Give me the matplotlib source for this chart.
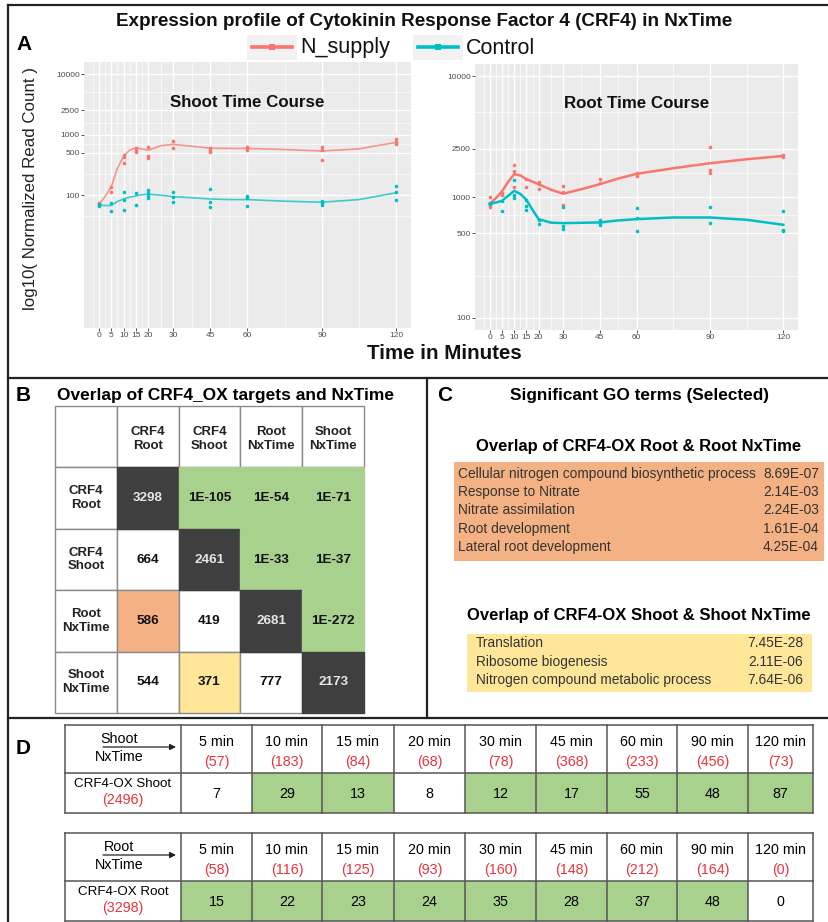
import numpy as np
import matplotlib.pyplot as plt
from matplotlib.patches import Rectangle
from matplotlib.ticker import FixedLocator, NullFormatter

plt.rcParams['font.family'] = ['Liberation Sans', 'DejaVu Sans']

RED = '#F8766D'
CYAN = '#00BFC4'
GREEN = '#A9D18E'
ORANGE = '#F4B183'
YELLOW = '#FFE699'
DARK = '#3F3F3F'
DRED = '#E8343C'

# ---------------- panel A : time courses ----------------
times = [0, 5, 10, 15, 20, 30, 45, 60, 90, 120]

shoot_n = [[73, 70, 68], [137, 111], [458, 420, 342], [606, 554, 507], [630, 441, 414],
           [782, 606], [591, 554, 520], [630, 591, 554], [630, 560, 384], [830, 760, 690]]
shoot_c = [[70, 66], [75, 55], [111, 84, 57], [107, 68], [121, 107, 98, 88],
           [111, 94, 76], [126, 76, 63], [98, 88, 67], [80, 73, 68], [141, 114, 82]]
root_n = [[997, 861, 824], [1089, 1042], [1842, 1644, 1205], [1403, 1205], [1342, 1285, 1167],
          [1236, 1109, 861], [1403, 1300], [1573, 1495], [2577, 1676, 1573], [2228, 2131]]
root_c = [[890, 870], [918, 759], [1386, 1042, 978], [947, 845, 783], [648, 597],
          [824, 571, 546], [640, 608, 582], [809, 669, 519], [824, 608], [759, 535, 519]]

# smooth (loess) curves as drawn, read at these minutes
fit_t = [0, 2.5, 5, 7.5, 10, 12.5, 15, 17.5, 20, 25, 30, 37.5, 45, 52.5, 60, 75, 90, 105, 120]
shoot_n_fit = [70, 94, 137, 276, 441, 554, 606, 576, 550, 653, 688, 640, 595, 590, 590, 565, 534, 580, 742]
shoot_c_fit = [68, 67, 67, 78, 86, 92, 97, 101, 103, 99, 94, 90, 86, 84, 84, 79, 76, 84, 109]
root_n_fit = [878, 978, 1109, 1330, 1543, 1510, 1403, 1340, 1276, 1150, 1065, 1160, 1276, 1420, 1553, 1729, 1901, 2052, 2187]
root_c_fit = [878, 900, 930, 1022, 1124, 1062, 947, 783, 656, 614, 608, 612, 616, 640, 656, 677, 677, 648, 589]

yticks = [100, 500, 1000, 2500, 10000]

# ---------------- panel B : overlap matrix ----------------
b_cols = ['CRF4\nRoot', 'CRF4\nShoot', 'Root\nNxTime', 'Shoot\nNxTime']
b_vals = [['3298', '1E-105', '1E-54', '1E-71'],
          ['664', '2461', '1E-33', '1E-37'],
          ['586', '419', '2681', '1E-272'],
          ['544', '371', '777', '2173']]
b_kind = [['d', 'g', 'g', 'g'],
          ['w', 'd', 'g', 'g'],
          ['o', 'w', 'd', 'g'],
          ['w', 'y', 'w', 'd']]

# ---------------- panel C : GO terms ----------------
go_root = ['Cellular nitrogen compound biosynthetic process', 'Response to Nitrate',
           'Nitrate assimilation', 'Root development', 'Lateral root development']
go_root_p = ['8.69E-07', '2.14E-03', '2.24E-03', '1.61E-04', '4.25E-04']
go_shoot = ['Translation', 'Ribosome biogenesis', 'Nitrogen compound metabolic process']
go_shoot_p = ['7.45E-28', '2.11E-06', '7.64E-06']

# ---------------- panel D : overlaps per time point ----------------
d_times = ['5 min', '10 min', '15 min', '20 min', '30 min', '45 min', '60 min', '90 min', '120 min']
shoot_nx = [57, 183, 84, 68, 78, 368, 233, 456, 73]
shoot_ov = [7, 29, 13, 8, 12, 17, 55, 48, 87]
shoot_sig = [0, 1, 1, 0, 1, 1, 1, 1, 1]
root_nx = [58, 116, 125, 93, 160, 148, 212, 164, 0]
root_ov = [15, 22, 23, 24, 35, 28, 37, 48, 0]
root_sig = [1, 1, 1, 1, 1, 1, 1, 1, 0]
shoot_total = 2496
root_total = 3298

W, H = 829, 922
fig = plt.figure(figsize=(W / 100, H / 100), dpi=100)
fig.patch.set_facecolor('white')

# full-figure overlay in pixel coordinates for boxes, tables and text
ax0 = fig.add_axes([0, 0, 1, 1])
ax0.set_xlim(0, W)
ax0.set_ylim(H, 0)
ax0.axis('off')


def px_axes(x0, y0, x1, y1):
    return fig.add_axes([x0 / W, 1 - y1 / H, (x1 - x0) / W, (y1 - y0) / H])


def time_course(ax, pts_n, pts_c, fit_n, fit_c, ylim, title, ty, lw, alpha):
    ax.set_facecolor('#EBEBEB')
    for spine in ax.spines.values():
        spine.set_visible(False)
    for pts, col in [(pts_n, RED), (pts_c, CYAN)]:
        xs = [t for t, vals in zip(times, pts) for _ in vals]
        ys = [v for vals in pts for v in vals]
        ax.plot(xs, ys, 'o', ms=2.6, color=col, mew=0, zorder=3)
    ax.plot(fit_t, fit_n, color=RED, lw=lw, alpha=alpha, zorder=2)
    ax.plot(fit_t, fit_c, color=CYAN, lw=lw, alpha=alpha, zorder=2)
    ax.set_yscale('log')
    ax.set_xlim(-6, 126)
    ax.set_ylim(*ylim)
    ax.set_xticks(times)
    ax.set_xticklabels([str(t) for t in times])
    xminor = [-2.5] + list((np.array(times[:-1]) + np.array(times[1:])) / 2)
    ax.xaxis.set_minor_locator(FixedLocator(xminor))
    ly = np.log10(yticks)
    yminor = [10 ** (2 - (ly[1] - ly[0]) / 2)] + list(10 ** ((ly[:-1] + ly[1:]) / 2))
    ax.set_yticks(yticks)
    ax.set_yticklabels([str(v) for v in yticks])
    ax.yaxis.set_minor_locator(FixedLocator(yminor))
    ax.yaxis.set_minor_formatter(NullFormatter())
    ax.tick_params(which='major', length=2, width=0.6, color='#333333',
                   labelsize=6, labelcolor='#4D4D4D', pad=1)
    ax.tick_params(which='minor', length=0)
    ax.grid(which='major', color='white', lw=1.0)
    ax.grid(which='minor', color='white', lw=0.45)
    ax.set_axisbelow(True)
    ax.text(0.5, ty, title, transform=ax.transAxes, ha='center', va='center',
            fontsize=12.2, fontweight='bold', color='#111111')


axL = px_axes(84, 62, 411, 328)
time_course(axL, shoot_n, shoot_c, shoot_n_fit, shoot_c_fit,
            (10 ** -0.2, 10 ** 4.2), 'Shoot Time Course', 0.846, 1.2, 0.75)
axR = px_axes(475, 64, 798, 330)
time_course(axR, root_n, root_c, root_n_fit, root_c_fit,
            (10 ** 1.9, 10 ** 4.1), 'Root Time Course', 0.853, 1.8, 1.0)

# ---------------- frame lines ----------------
lc = '#222222'
lw_frame = 1.6
ax0.plot([8, W], [5, 5], color=lc, lw=lw_frame)
ax0.plot([8, 8], [5, H], color=lc, lw=lw_frame)
ax0.plot([8, W], [378, 378], color=lc, lw=lw_frame)
ax0.plot([427, 427], [378, 718], color=lc, lw=lw_frame)
ax0.plot([8, W], [718, 718], color=lc, lw=lw_frame)

# panel letters
for lab, x, y in [('A', 24, 45), ('B', 23.5, 395), ('C', 445, 395), ('D', 23.5, 748)]:
    ax0.text(x, y, lab, fontsize=15, fontweight='bold', ha='center', va='center')

# panel A texts
ax0.text(424, 21, 'Expression profile of Cytokinin Response Factor 4 (CRF4) in NxTime',
         fontsize=13.6, fontweight='bold', ha='center', va='center', color='#111111')
ax0.text(31, 189, 'log10( Normalized Read Count )', rotation=90, fontsize=12.2,
         ha='center', va='center', color='#222222')
ax0.text(444, 353, 'Time in Minutes', fontsize=14.8, fontweight='bold',
         ha='center', va='center', color='#111111')

for x0, lab, col in [(247, 'N_supply', RED), (413, 'Control', CYAN)]:
    ax0.add_patch(Rectangle((x0, 35), 50, 25, facecolor='#F2F2F2', lw=0))
    ax0.plot([x0 + 5, x0 + 45], [47.5, 47.5], color=col, lw=2.6)
    ax0.plot([x0 + 25], [47.5], 's', color=col, ms=5, mew=0)
    ax0.text(x0 + 53, 48, lab, fontsize=15.5, ha='left', va='center', color='#111111')

# ---------------- panel B ----------------
ax0.text(57, 395, 'Overlap of CRF4_OX targets and NxTime', fontsize=12.5,
         fontweight='bold', ha='left', va='center')
bx = np.linspace(55, 364, 6)
by = np.linspace(406, 713, 6)
fills = {'w': 'white', 'd': DARK, 'g': GREEN, 'o': ORANGE, 'y': YELLOW}
grid_c = '#8A8A8A'
# header row / column
for j in range(5):
    ax0.add_patch(Rectangle((bx[j], by[0]), bx[j + 1] - bx[j], by[1] - by[0],
                            facecolor='white', edgecolor=grid_c, lw=1.0))
for i in range(4):
    ax0.add_patch(Rectangle((bx[0], by[i + 1]), bx[1] - bx[0], by[i + 2] - by[i + 1],
                            facecolor='white', edgecolor=grid_c, lw=1.0))
for order in ['wy o', 'gd']:
    for i in range(4):
        for j in range(4):
            k = b_kind[i][j]
            if k not in order:
                continue
            ec = fills[k] if k in 'gd' else grid_c
            ax0.add_patch(Rectangle((bx[j + 1], by[i + 1]), bx[j + 2] - bx[j + 1],
                                    by[i + 2] - by[i + 1], facecolor=fills[k],
                                    edgecolor=ec, lw=1.0))
for j, lab in enumerate(b_cols):
    ax0.text((bx[j + 1] + bx[j + 2]) / 2, (by[0] + by[1]) / 2 + 2, lab, fontsize=9.5,
             fontweight='bold', ha='center', va='center', color='#222222')
    ax0.text((bx[0] + bx[1]) / 2, (by[j + 1] + by[j + 2]) / 2, lab, fontsize=9.5,
             fontweight='bold', ha='center', va='center', color='#222222')
for i in range(4):
    for j in range(4):
        col = '#E6E6E6' if b_kind[i][j] == 'd' else '#111111'
        ax0.text((bx[j + 1] + bx[j + 2]) / 2, (by[i + 1] + by[i + 2]) / 2, b_vals[i][j],
                 fontsize=9.7, fontweight='bold', ha='center', va='center', color=col)

# ---------------- panel C ----------------
ax0.text(640, 395, 'Significant GO terms (Selected)', fontsize=12.4, fontweight='bold',
         ha='center', va='center')
ax0.text(639, 446, 'Overlap of CRF4-OX Root & Root NxTime', fontsize=12,
         fontweight='bold', ha='center', va='center')
ax0.add_patch(Rectangle((454, 462), 370, 99, facecolor=ORANGE, lw=0))
for k, (term, p) in enumerate(zip(go_root, go_root_p)):
    y = 474 + 18.2 * k
    ax0.text(458, y, term, fontsize=9.9, ha='left', va='center', color='#333333')
    ax0.text(819, y, p, fontsize=9.9, ha='right', va='center', color='#333333')

ax0.text(639, 615, 'Overlap of CRF4-OX Shoot & Shoot NxTime', fontsize=12,
         fontweight='bold', ha='center', va='center')
ax0.add_patch(Rectangle((467, 634), 345, 58, facecolor=YELLOW, lw=0))
for k, (term, p) in enumerate(zip(go_shoot, go_shoot_p)):
    y = 643 + 18.5 * k
    ax0.text(476, y, term, fontsize=9.9, ha='left', va='center', color='#333333')
    ax0.text(803, y, p, fontsize=9.9, ha='right', va='center', color='#333333')

# ---------------- panel D ----------------
DFS = 10.3
dx = [65, 181, 252, 322, 394, 465, 536, 607, 677, 748, 813]
line_c = '#555555'


def d_table(y0, tissue, nx, ov, sig, total):
    ym = y0 + 48
    y1 = y0 + 88
    for j in range(9):
        fc = GREEN if sig[j] else 'white'
        ax0.add_patch(Rectangle((dx[j + 1], ym), dx[j + 2] - dx[j + 1], y1 - ym,
                                facecolor=fc, lw=0))
    for x in dx:
        ax0.plot([x, x], [y0, y1], color=line_c, lw=1.1)
    for y in [y0, ym, y1]:
        ax0.plot([dx[0], dx[-1]], [y, y], color=line_c, lw=1.1)
    cx = (dx[0] + dx[1]) / 2
    ax0.text(cx - 4, y0 + 14, tissue, fontsize=DFS, ha='center', va='center')
    ax0.annotate('', xy=(cx + 53, y0 + 22), xytext=(cx - 20, y0 + 22),
                 arrowprops=dict(arrowstyle='-|>', color='#222222', lw=0.9,
                                 mutation_scale=9, shrinkA=0, shrinkB=0))
    ax0.text(cx - 4, y0 + 32, 'NxTime', fontsize=DFS, ha='center', va='center')
    ax0.text(cx, ym + 11, 'CRF4-OX ' + tissue, fontsize=9.6, ha='center', va='center')
    ax0.text(cx, ym + 27, '(%d)' % total, fontsize=DFS, ha='center', va='center',
             color=DRED)
    for j in range(9):
        xc = (dx[j + 1] + dx[j + 2]) / 2
        ax0.text(xc, y0 + 17, d_times[j], fontsize=DFS, ha='center', va='center')
        ax0.text(xc, y0 + 37, '(%d)' % nx[j], fontsize=DFS, ha='center', va='center',
                 color=DRED)
        ax0.text(xc, ym + 21, str(ov[j]), fontsize=DFS, ha='center', va='center')


d_table(725, 'Shoot', shoot_nx, shoot_ov, shoot_sig, shoot_total)
d_table(833, 'Root', root_nx, root_ov, root_sig, root_total)

fig.savefig('out.png', dpi=100, facecolor='white')
